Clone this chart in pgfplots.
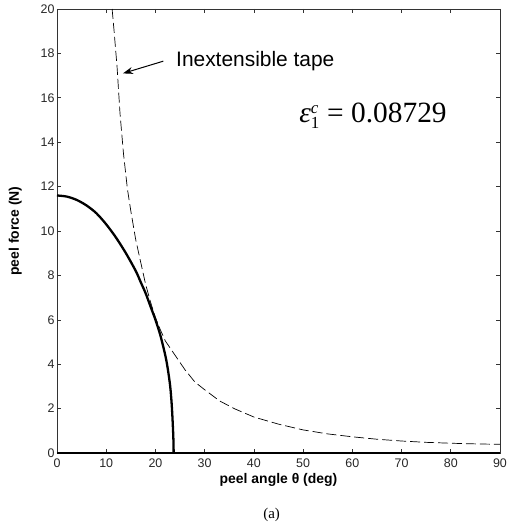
\documentclass[border=0pt]{standalone}
\usepackage{pgfplots}
\pgfplotsset{compat=1.18}
\usepackage{fontspec}
\setmainfont{Liberation Sans}
\newfontfamily\seriffont{Liberation Serif}
\usetikzlibrary{arrows.meta}
\begin{document}
\begin{tikzpicture}
\begin{axis}[
  name=ax,
  scale only axis,
  width=443bp, height=444bp,
  xmin=0, xmax=90, ymin=0, ymax=20,
  xtick={0,10,...,90}, ytick={0,2,...,20},
  tick align=inside, major tick length=4bp,
  axis line style={black!80, line width=0.8pt},
  tick style={black!80, line width=0.6pt},
  ticklabel style={font=\fontsize{12.5}{14}\selectfont, text=black!85},
  xticklabel style={yshift=-2bp},
  yticklabel style={xshift=1bp},
  /pgf/number format/assume math mode=true,
  xlabel={\bfseries peel angle θ (deg)},
  ylabel={\bfseries peel force (N)},
  label style={font=\fontsize{14}{16}\selectfont},
  xlabel style={yshift=1bp},
  ylabel style={yshift=12bp},
  clip=false,
]
\addplot[black, line width=0.7pt, dash pattern=on 10bp off 4bp] coordinates {
(11.2,20) (11.6,19) (12.2,17.4) (12.8,15.3) (13.5,13.5) (14.3,11.9) (15,10.9)
(16,9.6) (17,8.6) (18,7.6) (19,6.8) (20,6.1) (21,5.55) (22,5.05) (24,4.4)
(26,3.75) (28,3.2) (30,2.85) (33,2.35) (36,2.0) (40,1.62) (45,1.3) (50,1.04)
(55,0.86) (60,0.73) (65,0.62) (70,0.54) (75,0.48) (80,0.44) (85,0.41) (90,0.39)
};
\addplot[black, line width=2.3pt, smooth] coordinates {
(0,11.6) (2,11.55) (4,11.4) (6,11.15) (8,10.8) (10,10.3) (12,9.7) (14,9.0)
(16,8.2) (17,7.7) (18,7.2) (19,6.6) (20,6.0) (21,5.3) (22,4.4) (22.5,3.8)
(23,3.0) (23.3,2.2) (23.5,1.4) (23.65,0.6) (23.7,0)
};
\addplot[black, line width=2.8pt] coordinates {(0,0) (90,0)};
\draw[-{Stealth[length=10bp,width=7bp]}, line width=1pt] (axis cs:21.6,17.65) -- (axis cs:13.4,17.1);
\node[anchor=west, font=\fontsize{21}{24}\selectfont] at (axis cs:23.5,17.65) {Inextensible tape};
\node[font=\seriffont\fontsize{29.5}{33}\selectfont] at (axis cs:64.2,15.2) {\textit{ε}$_{\mbox{\seriffont\fontsize{17}{20}\selectfont 1}}^{\mbox{\seriffont\fontsize{17}{20}\selectfont\itshape c}}$\ = 0.08729};
\node[font=\seriffont\fontsize{15}{17}\selectfont] at (axis cs:43.6,-2.8) {(a)};
\end{axis}
\path ([xshift=-57bp,yshift=9bp]ax.north west) rectangle ([xshift=6bp,yshift=-74bp]ax.south east);
\end{tikzpicture}
\end{document}
